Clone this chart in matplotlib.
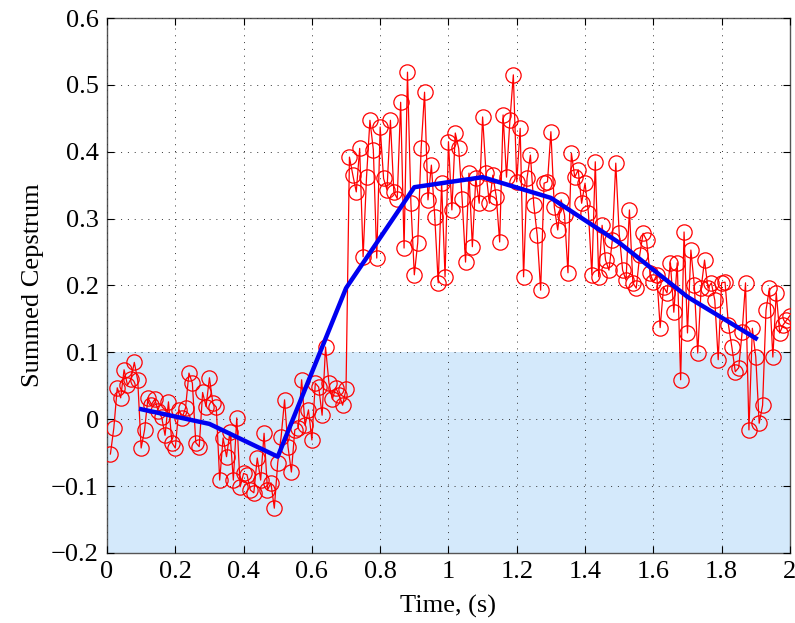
import matplotlib
matplotlib.use("Agg")
import matplotlib.pyplot as plt
import numpy as np

plt.rcParams["font.family"] = ["Liberation Serif", "DejaVu Serif"]

# Summed cepstrum per 10 ms frame, 0.01 .. 2.00 s
cepstrum = [
    -0.052, -0.013, 0.047, 0.032, 0.074, 0.051, 0.060, 0.085, 0.058, -0.043,
    -0.016, 0.032, 0.022, 0.030, 0.012, 0.003, -0.024, 0.026, -0.035, -0.043,
    0.014, 0.002, 0.017, 0.069, 0.054, -0.035, -0.041, 0.040, 0.019, 0.062,
    0.024, 0.018, -0.091, -0.028, -0.056, -0.019, -0.091, 0.002, -0.101, -0.081,
    -0.083, -0.106, -0.110, -0.058, -0.091, -0.021, -0.106, -0.095, -0.133, -0.065,
    -0.026, 0.029, -0.041, -0.079, -0.016, -0.013, 0.059, -0.009, 0.014, -0.031,
    0.054, 0.048, 0.006, 0.108, 0.054, 0.030, 0.047, 0.036, 0.021, 0.045,
    0.392, 0.365, 0.340, 0.405, 0.243, 0.362, 0.447, 0.403, 0.241, 0.437,
    0.360, 0.343, 0.447, 0.340, 0.330, 0.474, 0.256, 0.519, 0.323, 0.216,
    0.264, 0.405, 0.489, 0.328, 0.380, 0.302, 0.204, 0.353, 0.213, 0.415,
    0.313, 0.428, 0.405, 0.330, 0.235, 0.368, 0.258, 0.360, 0.323, 0.452,
    0.368, 0.323, 0.365, 0.333, 0.265, 0.455, 0.362, 0.447, 0.515, 0.355,
    0.435, 0.213, 0.360, 0.395, 0.320, 0.275, 0.193, 0.353, 0.355, 0.430,
    0.317, 0.283, 0.328, 0.305, 0.219, 0.398, 0.362, 0.373, 0.323, 0.353,
    0.308, 0.216, 0.385, 0.213, 0.290, 0.238, 0.223, 0.268, 0.383, 0.278,
    0.223, 0.208, 0.313, 0.204, 0.196, 0.245, 0.278, 0.268, 0.219, 0.205,
    0.216, 0.137, 0.198, 0.189, 0.234, 0.160, 0.234, 0.059, 0.280, 0.129,
    0.253, 0.200, 0.099, 0.196, 0.238, 0.196, 0.204, 0.178, 0.089, 0.204,
    0.205, 0.141, 0.108, 0.071, 0.077, 0.130, 0.204, -0.016, 0.136, 0.093,
    -0.006, 0.021, 0.163, 0.196, 0.093, 0.189, 0.129, 0.141, 0.148, 0.155,
]
time = np.arange(1, len(cepstrum) + 1) * 0.01

# Smoothed trend, one value per 0.2 s window
trend_time = [0.1, 0.3, 0.5, 0.7, 0.9, 1.1, 1.3, 1.5, 1.7, 1.9]
trend = [0.015, -0.007, -0.056, 0.196, 0.347, 0.362, 0.331, 0.264, 0.183, 0.121]

# Decision band
band_low, band_high = -0.2, 0.1

fig = plt.figure(figsize=(7.95, 6.23), dpi=100)
ax = fig.add_axes([0.1346, 0.1124, 0.859, 0.8587])

ax.axhspan(band_low, band_high, color="#d4e9fb", zorder=0, lw=0)

ax.plot(time, cepstrum, color="red", lw=0.9, marker="o", markersize=11,
        markerfacecolor="none", markeredgecolor="red", markeredgewidth=0.9,
        zorder=3)
ax.plot(trend_time, trend, color="#0000f0", lw=3.2, zorder=4)

ax.set_xlim(0, 2)
ax.set_ylim(-0.2, 0.6)
ax.set_xticks(np.arange(0, 2.01, 0.2))
ax.set_yticks(np.arange(-0.2, 0.61, 0.1))
ax.set_xticklabels(["0", "0.2", "0.4", "0.6", "0.8", "1", "1.2", "1.4",
                    "1.6", "1.8", "2"])
ax.set_yticklabels(["\u22120.2", "\u22120.1", "0", "0.1", "0.2", "0.3",
                    "0.4", "0.5", "0.6"])
ax.tick_params(direction="in", labelsize=19, length=5, pad=6,
               top=True, right=True)
ax.grid(True, color="#333333", linestyle=(0, (1, 6)), lw=0.7)
ax.set_axisbelow(False)
for s in ax.spines.values():
    s.set_color("#555555")
    s.set_linewidth(1.0)

ax.set_xlabel("Time, (s)", fontsize=19, labelpad=8)
ax.set_ylabel("Summed Cepstrum", fontsize=19, labelpad=5)

fig.savefig("out.png", dpi=100)
